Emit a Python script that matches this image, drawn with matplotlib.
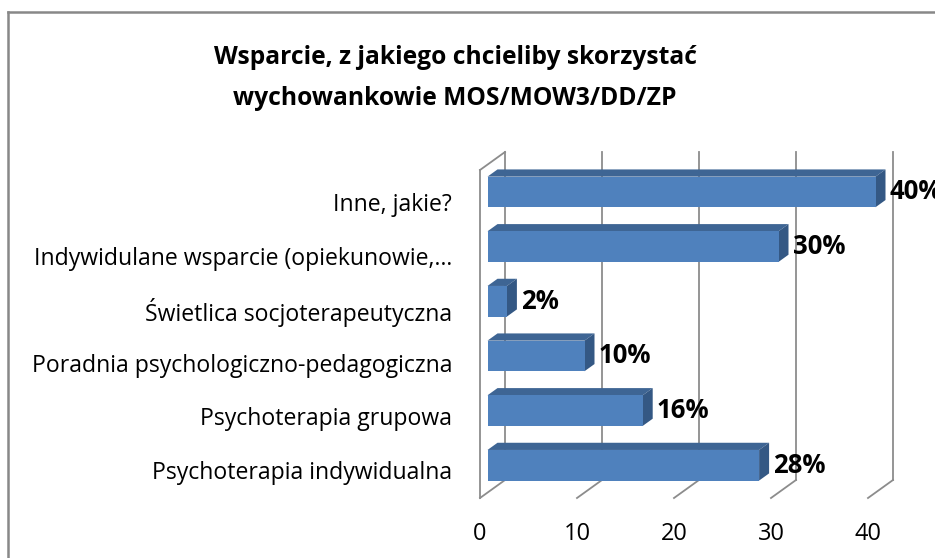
import matplotlib
matplotlib.use("Agg")
import matplotlib.pyplot as plt
from matplotlib.patches import Polygon
from matplotlib.lines import Line2D

# ---- data ----
categories = [
    "Psychoterapia indywidualna",
    "Psychoterapia grupowa",
    "Poradnia psychologiczno-pedagogiczna",
    "Świetlica socjoterapeutyczna",
    "Indywidulane wsparcie (opiekunowie,…",
    "Inne, jakie?",
]
values = [28, 16, 10, 2, 30, 40]
value_labels = ["28%", "16%", "10%", "2%", "30%", "40%"]
x_ticks = [0, 10, 20, 30, 40]
title = "Wsparcie, z jakiego chcieliby skorzystać\nwychowankowie MOS/MOW3/DD/ZP"

FONT = "Open Sans"
W, H = 935, 558
fig = plt.figure(figsize=(W / 100, H / 100), dpi=100)

# front plane of the 3D box
ax = fig.add_axes([480 / W, (H - 498) / H, 388 / W, 328 / H])
n = len(categories)
ax.set_xlim(0, 40)
ax.set_ylim(0, n)
for s in ax.spines.values():
    s.set_visible(False)

# depth of the box (in data units)
px_x = 388 / 40.0
px_y = 328 / n
DX = 25 / px_x
DY = 18 / px_y

grid_c = "#8c8c8c"
glw = 1.3
# left wall
ax.plot([0, 0], [0, n], color=grid_c, lw=glw, clip_on=False, zorder=1)
ax.plot([0, DX], [n, n + DY], color=grid_c, lw=glw, clip_on=False, zorder=1)
for k in x_ticks:
    ax.plot([k, k + DX], [0, DY], color=grid_c, lw=glw, clip_on=False, zorder=1)
    ax.plot([k + DX, k + DX], [DY, n + DY], color=grid_c, lw=glw, clip_on=False, zorder=1)

# bars
f1, f2 = 0.30, 0.70
bh = 0.56
front_c, top_c, side_c = "#4F81BD", "#3E6594", "#345884"
for i, v in enumerate(values):
    c = i + 0.5
    ox1, oy1 = f1 * DX, f1 * DY
    ox2, oy2 = f2 * DX, f2 * DY
    b1, t1 = c - bh / 2 + oy1, c + bh / 2 + oy1
    b2, t2 = c - bh / 2 + oy2, c + bh / 2 + oy2
    ax.add_patch(Polygon([(ox1, t1), (v + ox1, t1), (v + ox2, t2), (ox2, t2)],
                         closed=True, fc=top_c, ec="none", clip_on=False, zorder=3))
    ax.add_patch(Polygon([(v + ox1, b1), (v + ox1, t1), (v + ox2, t2), (v + ox2, b2)],
                         closed=True, fc=side_c, ec="none", clip_on=False, zorder=3))
    ax.add_patch(Polygon([(ox1, b1), (v + ox1, b1), (v + ox1, t1), (ox1, t1)],
                         closed=True, fc=front_c, ec="none", clip_on=False, zorder=4))
    ax.text(v + ox2 + 4 / px_x, c + oy1, value_labels[i], fontsize=18.5,
            fontweight="bold", family=FONT, ha="left", va="center",
            clip_on=False, zorder=5)

ax.set_yticks([0.512 + 0.98 * i for i in range(n)])
ax.set_yticklabels(categories, fontsize=16.6, family=FONT)
ax.tick_params(axis="y", length=0, pad=20)
ax.set_xticks(x_ticks)
ax.set_xticklabels([str(t) for t in x_ticks], fontsize=17, family=FONT)
ax.tick_params(axis="x", length=0, pad=17)

fig.text(455 / W, 1 - 78 / H, title, ha="center", va="center", fontsize=17.7,
         fontweight="bold", family=FONT, linespacing=1.81)

# chart border
fig.add_artist(Line2D([8 / W, 1], [1 - 12 / H, 1 - 12 / H], color="#888888", lw=1.8))
fig.add_artist(Line2D([8 / W, 8 / W], [0, 1 - 12 / H], color="#888888", lw=1.8))

fig.savefig("out.png", dpi=100)
